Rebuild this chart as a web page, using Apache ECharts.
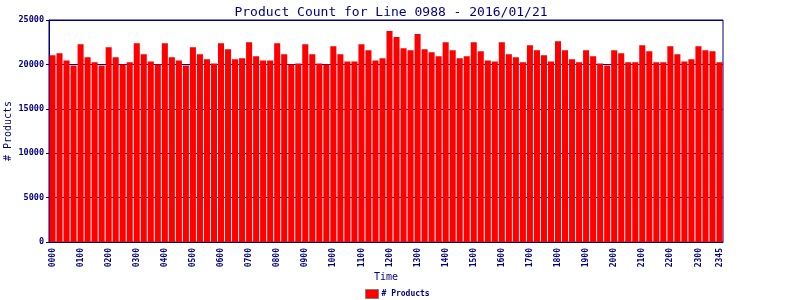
<!DOCTYPE html>
<html>
<head>
<meta charset="utf-8">
<script src="https://cdn.jsdelivr.net/npm/echarts@6/dist/echarts.min.js"></script>
<style>
  html, body { margin: 0; padding: 0; background: #fff; }
  #main { width: 800px; height: 300px; }
</style>
</head>
<body>
<div id="main"></div>
<script>
// 15-minute slots 0000 .. 2345
const times = [
  '0000','0015','0030','0045','0100','0115','0130','0145','0200','0215','0230','0245',
  '0300','0315','0330','0345','0400','0415','0430','0445','0500','0515','0530','0545',
  '0600','0615','0630','0645','0700','0715','0730','0745','0800','0815','0830','0845',
  '0900','0915','0930','0945','1000','1015','1030','1045','1100','1115','1130','1145',
  '1200','1215','1230','1245','1300','1315','1330','1345','1400','1415','1430','1445',
  '1500','1515','1530','1545','1600','1615','1630','1645','1700','1715','1730','1745',
  '1800','1815','1830','1845','1900','1915','1930','1945','2000','2015','2030','2045',
  '2100','2115','2130','2145','2200','2215','2230','2245','2300','2315','2330','2345'
];

const products = [
  21020, 21250, 20450, 19890, 22270, 20800, 20230, 19890, 21930, 20800, 20000, 20230,
  22390, 21140, 20340, 20000, 22390, 20800, 20450, 19890, 21930, 21140, 20570, 20110,
  22390, 21700, 20570, 20680, 22500, 20910, 20450, 20450, 22390, 21140, 20000, 20110,
  22270, 21140, 20110, 20000, 22050, 21140, 20340, 20340, 22270, 21590, 20450, 20680,
  23760, 23080, 21820, 21590, 23410, 21700, 21360, 20910, 22500, 21590, 20680, 20910,
  22500, 21480, 20450, 20340, 22500, 21140, 20800, 20230, 22160, 21590, 21020, 20340,
  22610, 21590, 20570, 20230, 21590, 20910, 20110, 19890, 21590, 21250, 20230, 20230,
  22160, 21480, 20230, 20230, 22050, 21140, 20340, 20570, 22050, 21590, 21480, 20230
];

const yTicks = [0, 5000, 10000, 15000, 20000, 25000];

const navy = '#000080';
const mono = 'DejaVu Sans Mono';

const chart = echarts.init(document.getElementById('main'));
chart.setOption({
  animation: false,
  backgroundColor: '#ffffff',
  title: {
    text: 'Product Count for Line 0988 - 2016/01/21',
    left: 386,
    textAlign: 'center',
    top: 1,
    textStyle: { color: navy, fontFamily: mono, fontSize: 13, fontWeight: 'normal' }
  },
  legend: {
    data: [{ name: '# Products', itemStyle: { color: '#ff0000', borderColor: '#808080', borderWidth: 1 } }],
    left: 365,
    top: 289,
    padding: 0,
    itemWidth: 13,
    itemHeight: 9,
    itemGap: 3,
    icon: 'rect',
    textStyle: { color: navy, fontFamily: mono, fontSize: 8, fontWeight: 'bold', padding: [0, 0, 0, -2] }
  },
  grid: {
    left: 49,
    right: 77,
    top: 20,
    bottom: 58,
    outerBoundsMode: 'none',
    containLabel: false,
    show: true,
    borderColor: navy,
    borderWidth: 1,
    backgroundColor: 'transparent'
  },
  xAxis: {
    type: 'category',
    data: times,
    name: 'Time',
    nameLocation: 'middle',
    nameGap: 30,
    nameMoveOverlap: false,
    nameTextStyle: { color: navy, fontFamily: mono, fontSize: 10 },
    axisLine: { lineStyle: { color: navy, width: 1 } },
    axisTick: { show: false },
    axisLabel: {
      interval: function (i) { return i % 4 === 0 || i === times.length - 1; },
      rotate: 90,
      margin: 6,
      color: navy,
      fontFamily: mono,
      fontSize: 8,
      fontWeight: 'bold'
    }
  },
  yAxis: {
    type: 'value',
    min: yTicks[0],
    max: yTicks[yTicks.length - 1],
    interval: 5000,
    name: '# Products',
    nameLocation: 'middle',
    nameGap: 36,
    nameMoveOverlap: false,
    nameTextStyle: { color: navy, fontFamily: mono, fontSize: 10 },
    axisLine: { show: true, lineStyle: { color: navy, width: 1 } },
    axisTick: { show: true, length: 3, lineStyle: { color: navy } },
    axisLabel: {
      color: navy, fontFamily: mono, fontSize: 8.5, fontWeight: 'bold', margin: 5,
      formatter: function (v) { return String(v); }
    },
    splitLine: { show: true, lineStyle: { color: navy, width: 1 } }
  },
  series: [{
    name: '# Products',
    type: 'bar',
    data: products,
    barCategoryGap: '14%',
    itemStyle: { color: '#ff0000' }
  }]
});
</script>
</body>
</html>
